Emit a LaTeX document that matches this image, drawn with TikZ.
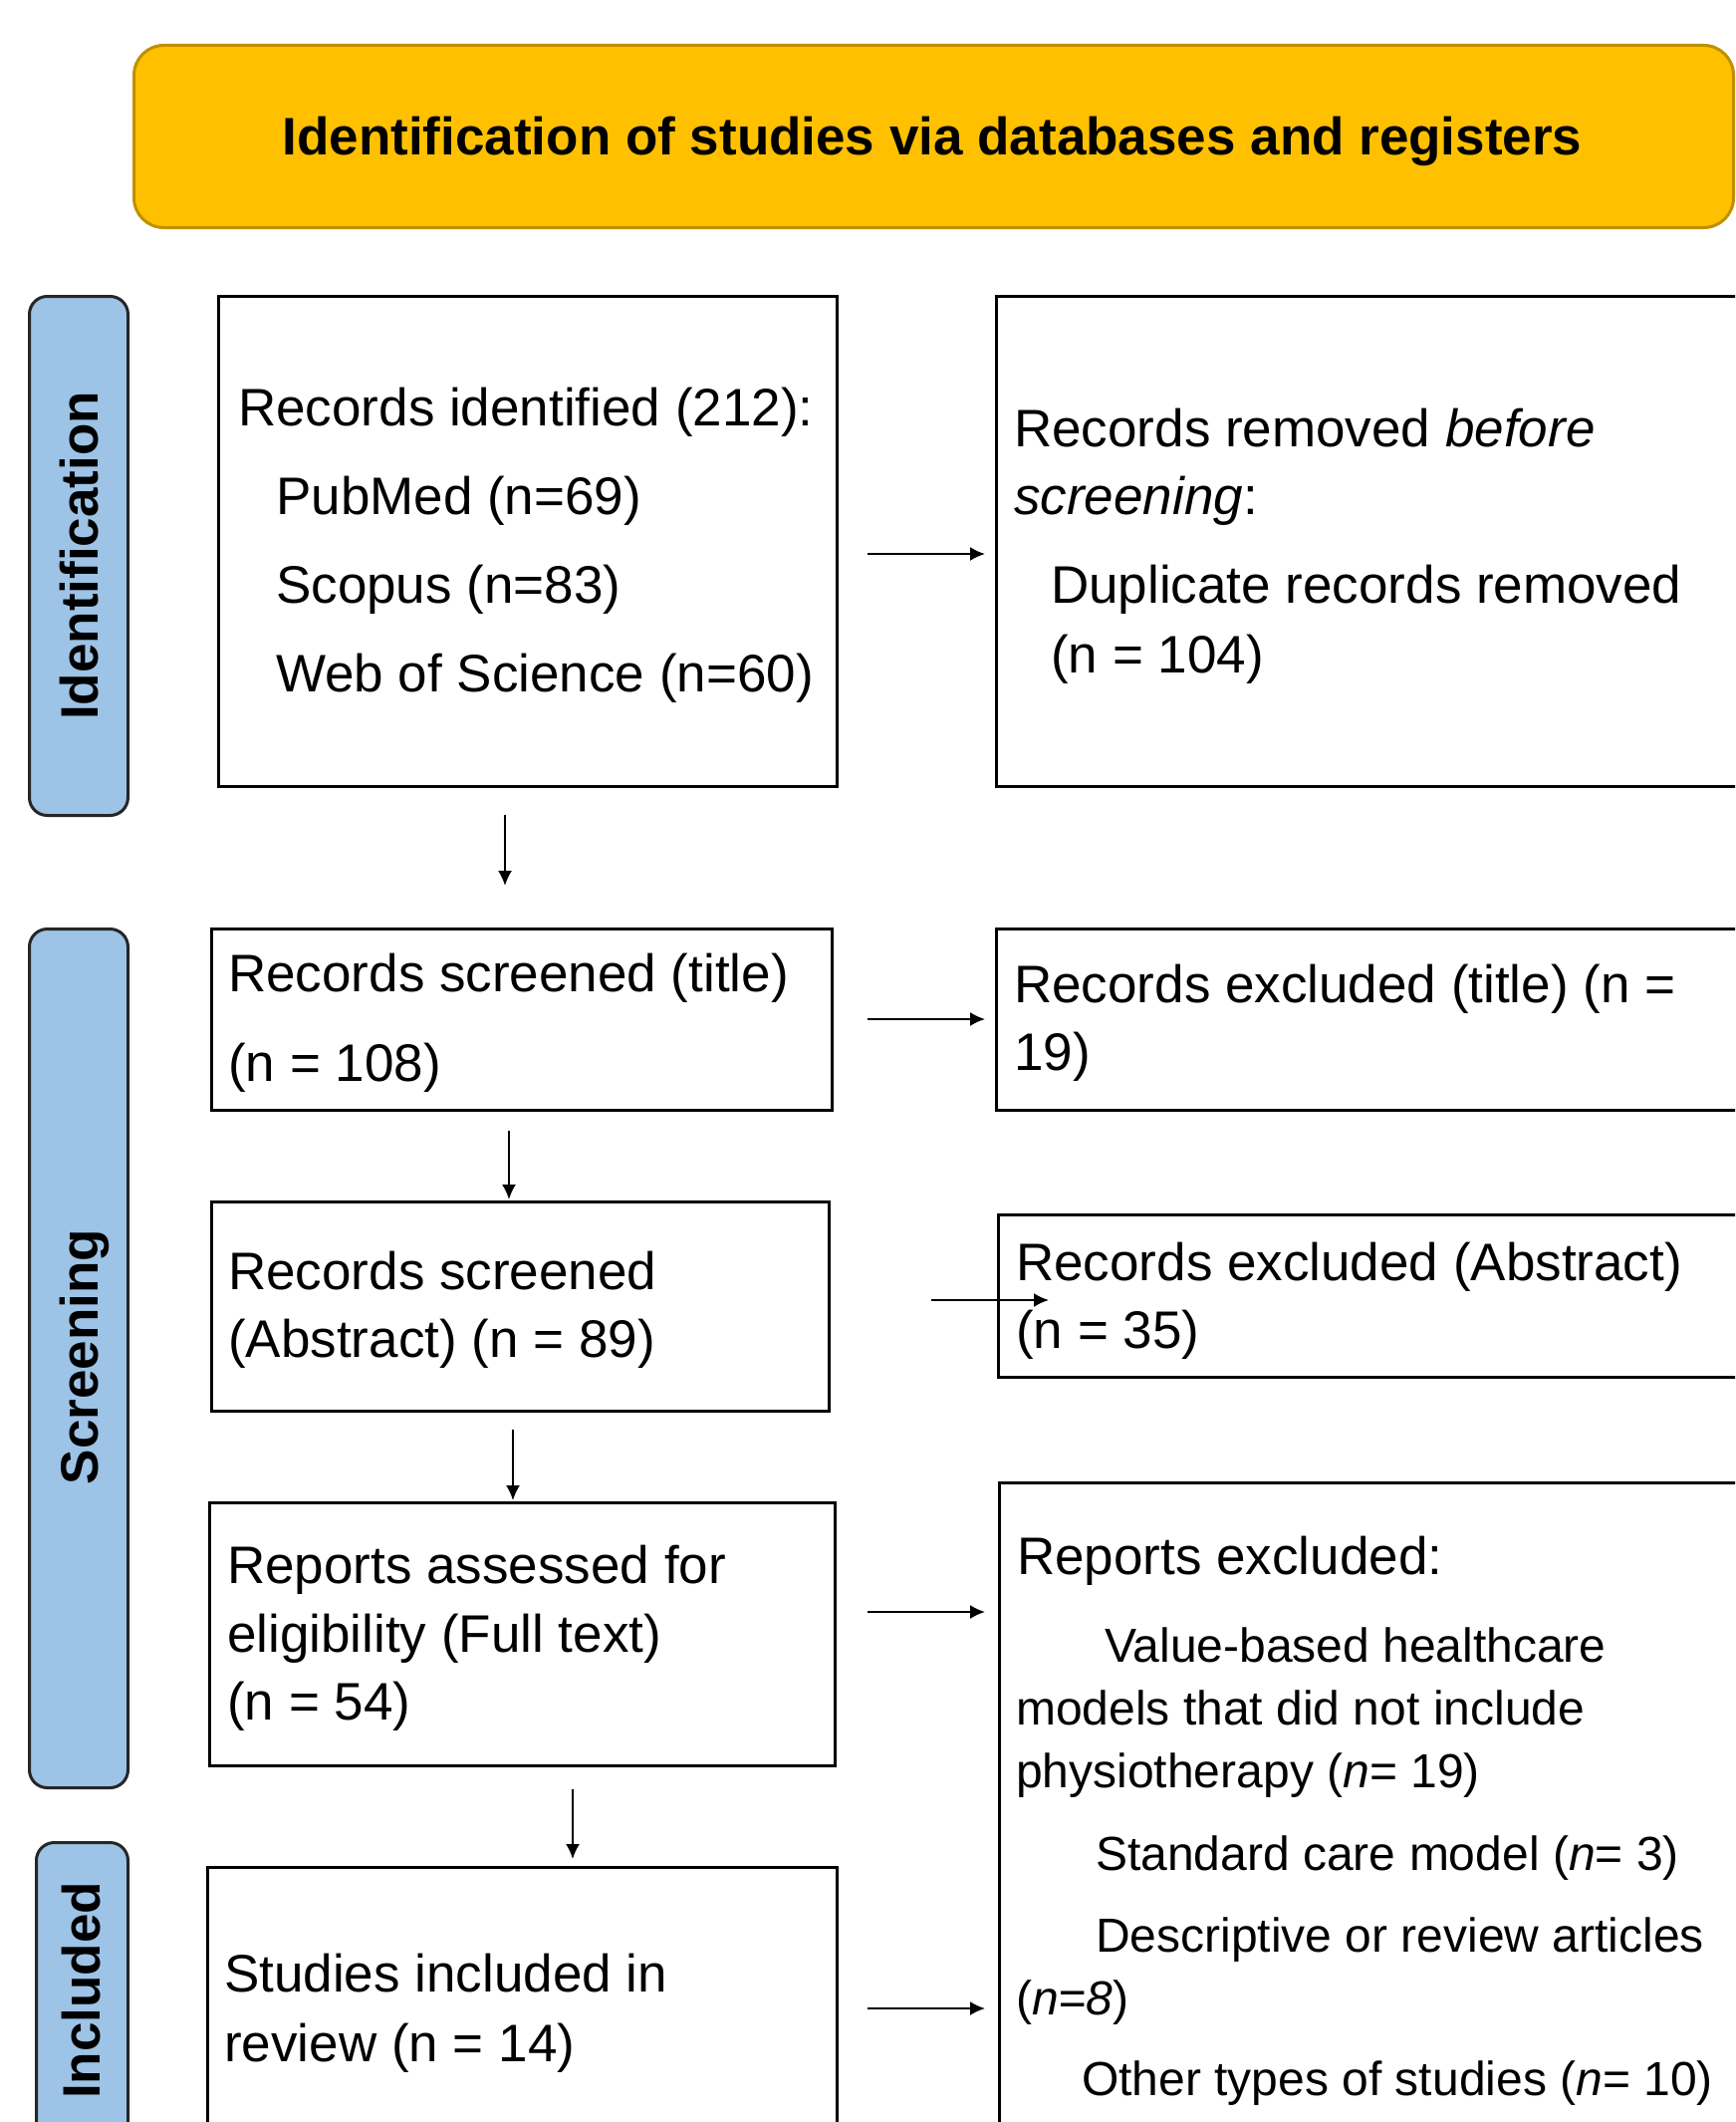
\documentclass[tikz,border=0pt]{standalone}
\usepackage{fontspec}
\setmainfont{Liberation Sans}
\usetikzlibrary{arrows.meta}
\definecolor{gold}{HTML}{FFC000}
\definecolor{goldline}{HTML}{BF9000}
\definecolor{barblue}{HTML}{9DC3E6}
\definecolor{barline}{HTML}{262626}
\begin{document}
\begin{tikzpicture}[x=1pt,y=-1pt,
  every node/.style={font=\fontsize{53}{60}\selectfont},
  txt/.style={anchor=base west, inner sep=0pt},
  smalltxt/.style={anchor=base west, inner sep=0pt, font=\fontsize{48}{54}\selectfont},
  boxnode/.style={draw=black, line width=2.8pt, anchor=north west, inner sep=0pt, rectangle},
  barnode/.style={draw=barline, fill=barblue, line width=3pt, rounded corners=18pt, anchor=north west, inner sep=0pt, rectangle},
  sidelabel/.style={rotate=90, anchor=base, inner sep=0pt, font=\fontsize{53}{60}\selectfont\bfseries},
  arr/.style={-{Latex[length=15pt,width=14pt]}, line width=2pt}
]
\useasboundingbox (0,0) rectangle (1742,2130);
\clip (0,0) rectangle (1742,2130);
\fill[white] (0,0) rectangle (1742,2130);

% banner
\node[draw=goldline, fill=gold, line width=3pt, rounded corners=30pt, anchor=north west, inner sep=0pt,
      minimum width=1606pt, minimum height=183pt] (banner) at (133,44) {};
\node[anchor=base, inner sep=0pt, font=\fontsize{53}{60}\selectfont\bfseries] (bannertxt) at (936,155)
  {Identification of studies via databases and registers};

% side bars
\node[barnode, minimum width=99pt, minimum height=521pt] (barid) at (28,296) {};
\node[sidelabel] (labid) at (98,558) {Identification};
\node[barnode, minimum width=99pt, minimum height=862pt] (barsc) at (28,931) {};
\node[sidelabel] (labsc) at (98,1362) {Screening};
\node[barnode, minimum width=92pt, minimum height=320pt] (barin) at (35,1848) {};
\node[sidelabel] (labin) at (100,1998) {Included};

% left boxes
\node[boxnode, minimum width=621pt, minimum height=492pt] (b1) at (218,296) {};
\node[txt] (b1t1) at (239,427) {Records identified (212):};
\node[txt] (b1t2) at (277,516) {PubMed (n=69)};
\node[txt] (b1t3) at (277,605) {Scopus (n=83)};
\node[txt] (b1t4) at (277,694) {Web of Science (n=60)};

\node[boxnode, minimum width=623pt, minimum height=182pt] (b2) at (211,931) {};
\node[txt] (b2t1) at (229,995) {Records screened (title)};
\node[txt] (b2t2) at (229,1085) {(n = 108)};

\node[boxnode, minimum width=620pt, minimum height=210pt] (b3) at (211,1205) {};
\node[txt] (b3t1) at (229,1294) {Records screened};
\node[txt] (b3t2) at (229,1362) {(Abstract) (n = 89)};

\node[boxnode, minimum width=628pt, minimum height=264pt] (b4) at (209,1507) {};
\node[txt] (b4t1) at (228,1589) {Reports assessed for};
\node[txt] (b4t2) at (228,1658) {eligibility (Full text)};
\node[txt] (b4t3) at (228,1726) {(n = 54)};

\node[boxnode, minimum width=632pt, minimum height=300pt] (b5) at (207,1873) {};
\node[txt] (b5t1) at (225,1999) {Studies included in};
\node[txt] (b5t2) at (225,2069) {review (n = 14)};

% right boxes
\node[boxnode, minimum width=780pt, minimum height=492pt] (r1) at (999,296) {};
\node[txt] (r1t1) at (1018,448) {Records removed \textit{before}};
\node[txt] (r1t2) at (1018,516) {\textit{screening}:};
\node[txt] (r1t3) at (1055,605) {Duplicate records removed};
\node[txt] (r1t4) at (1055,675) {(n = 104)};

\node[boxnode, minimum width=780pt, minimum height=182pt] (r2) at (999,931) {};
\node[txt] (r2t1) at (1018,1006) {Records excluded (title) (n =};
\node[txt] (r2t2) at (1018,1074) {19)};

\node[boxnode, minimum width=780pt, minimum height=163pt] (r3) at (1001,1218) {};
\node[txt] (r3t1) at (1020,1285) {Records excluded (Abstract)};
\node[txt] (r3t2) at (1020,1353) {(n = 35)};

\node[boxnode, minimum width=780pt, minimum height=700pt] (r4) at (1002,1487) {};
\node[txt] (r4t1) at (1021,1580) {Reports excluded:};
\node[smalltxt] (r4t2) at (1109,1668) {Value-based healthcare};
\node[smalltxt] (r4t3) at (1020,1731) {models that did not include};
\node[smalltxt] (r4t4) at (1020,1794) {physiotherapy (\textit{n}= 19)};
\node[smalltxt] (r4t5) at (1100,1877) {Standard care model (\textit{n}= 3)};
\node[smalltxt] (r4t6) at (1100,1959) {Descriptive or review articles};
\node[smalltxt] (r4t7) at (1020,2022) {(\textit{n=8})};
\node[smalltxt] (r4t8) at (1086,2103) {Other types of studies (\textit{n}= 10)};

% connector end points
\coordinate (a1s) at (871,556);  \coordinate (a1e) at (989,556);
\coordinate (a2s) at (871,1023); \coordinate (a2e) at (989,1023);
\coordinate (a3s) at (935,1305); \coordinate (a3e) at (1053,1305);
\coordinate (a4s) at (871,1618); \coordinate (a4e) at (989,1618);
\coordinate (a5s) at (871,2016); \coordinate (a5e) at (989,2016);
\coordinate (d1s) at (507,818);  \coordinate (d1e) at (507,889);
\coordinate (d2s) at (511,1135); \coordinate (d2e) at (511,1204);
\coordinate (d3s) at (515,1435); \coordinate (d3e) at (515,1506);
\coordinate (d4s) at (575,1796); \coordinate (d4e) at (575,1866);

\draw[arr] (a1s) -- (a1e);
\draw[arr] (a2s) -- (a2e);
\draw[arr] (a3s) -- (a3e);
\draw[arr] (a4s) -- (a4e);
\draw[arr] (a5s) -- (a5e);
\draw[arr] (d1s) -- (d1e);
\draw[arr] (d2s) -- (d2e);
\draw[arr] (d3s) -- (d3e);
\draw[arr] (d4s) -- (d4e);
\end{tikzpicture}
\end{document}
